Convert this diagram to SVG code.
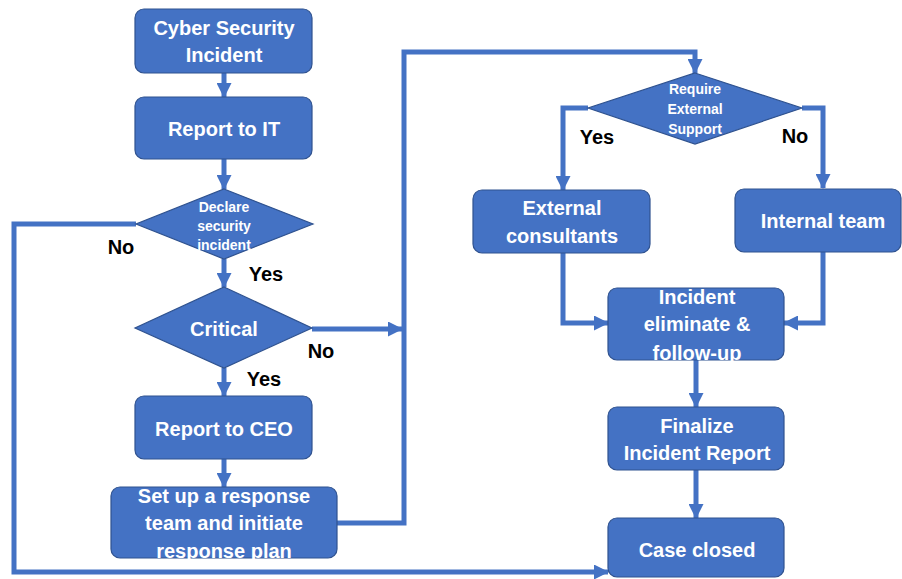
<svg xmlns="http://www.w3.org/2000/svg" width="902" height="579" viewBox="0 0 902 579">
<defs>
<style>
.box{fill:#4472C4;stroke:#2F528F;stroke-width:1.2}
.t{font-family:"Liberation Sans",Arial,sans-serif;font-weight:bold;fill:#fff;text-anchor:middle;dominant-baseline:central;font-size:20px}
.s{font-size:14px}
.lbl{font-family:"Liberation Sans",Arial,sans-serif;font-weight:bold;fill:#000;text-anchor:middle;dominant-baseline:central;font-size:20px}
.c{fill:none;stroke:#4472C4;stroke-width:5}
.a{marker-end:url(#ah)}
</style>
<marker id="ah" markerUnits="userSpaceOnUse" markerWidth="15" markerHeight="15" refX="14" refY="7.5" orient="auto">
<path d="M0,0 L15,7.5 L0,15 z" fill="#4472C4"/>
</marker>
</defs>
<rect width="902" height="579" fill="#fff"/>
<g id="connectors">
<path class="c a" d="M224,73 V97"/>
<path class="c a" d="M224,159 V189"/>
<path class="c a" d="M224,259 V287"/>
<path class="c a" d="M224,368 V396"/>
<path class="c a" d="M224,459 V487"/>
<path class="c a" d="M136,224 H14 V572 H608"/>
<path class="c a" d="M312,329 H402"/>
<path class="c a" d="M337,523 H404 V52 H695 V73"/>
<path class="c a" d="M588,108 H563 V190"/>
<path class="c a" d="M802,108 H823 V188"/>
<path class="c a" d="M563,253 V323 H608"/>
<path class="c a" d="M823,252 V323 H784"/>
<path class="c a" d="M696,360 V407"/>
<path class="c a" d="M696,470 V518"/>
</g>
<g id="labels">
<text class="lbl" x="121" y="247">No</text>
<text class="lbl" x="266" y="274">Yes</text>
<text class="lbl" x="321" y="351">No</text>
<text class="lbl" x="264" y="379">Yes</text>
<text class="lbl" x="597" y="137">Yes</text>
<text class="lbl" x="795" y="136">No</text>
</g>
<g id="n_cyber">
<rect class="box" x="135" y="9" width="177" height="64" rx="9"/>
<text class="t" x="224" y="28">Cyber Security</text>
<text class="t" x="224" y="55">Incident</text>
</g>
<g id="n_report_it">
<rect class="box" x="135" y="97" width="177" height="62" rx="9"/>
<text class="t" x="224" y="129">Report to IT</text>
</g>
<g id="n_declare">
<polygon class="box" points="224,189 313,224 224,259 136,224"/>
<text class="t s" x="224" y="207">Declare</text>
<text class="t s" x="224" y="226">security</text>
<text class="t s" x="224" y="245">incident</text>
</g>
<g id="n_critical">
<polygon class="box" points="224,287 312,328 224,368 135,328"/>
<text class="t" x="224" y="329">Critical</text>
</g>
<g id="n_report_ceo">
<rect class="box" x="135" y="396" width="177" height="63" rx="9"/>
<text class="t" x="224" y="429">Report to CEO</text>
</g>
<g id="n_setup">
<rect class="box" x="111" y="487" width="226" height="71" rx="9"/>
<text class="t" x="224" y="496">Set up a response</text>
<text class="t" x="224" y="523">team and initiate</text>
<text class="t" x="224" y="551">response plan</text>
</g>
<g id="n_require">
<polygon class="box" points="695,73 802,108 695,144 588,108"/>
<text class="t s" x="695" y="89">Require</text>
<text class="t s" x="695" y="109">External</text>
<text class="t s" x="695" y="129">Support</text>
</g>
<g id="n_external">
<rect class="box" x="473" y="190" width="177" height="63" rx="9"/>
<text class="t" x="562" y="208">External</text>
<text class="t" x="562" y="236">consultants</text>
</g>
<g id="n_internal">
<rect class="box" x="735" y="189" width="166" height="63" rx="9"/>
<text class="t" x="823" y="221">Internal team</text>
</g>
<g id="n_eliminate">
<rect class="box" x="608" y="288" width="176" height="72" rx="9"/>
<text class="t" x="697" y="297">Incident</text>
<text class="t" x="697" y="324">eliminate &amp;</text>
<text class="t" x="697" y="353">follow-up</text>
</g>
<g id="n_finalize">
<rect class="box" x="608" y="407" width="176" height="63" rx="9"/>
<text class="t" x="697" y="426">Finalize</text>
<text class="t" x="697" y="453">Incident Report</text>
</g>
<g id="n_closed">
<rect class="box" x="608" y="518" width="176" height="59" rx="9"/>
<text class="t" x="697" y="550">Case closed</text>
</g>
</svg>
